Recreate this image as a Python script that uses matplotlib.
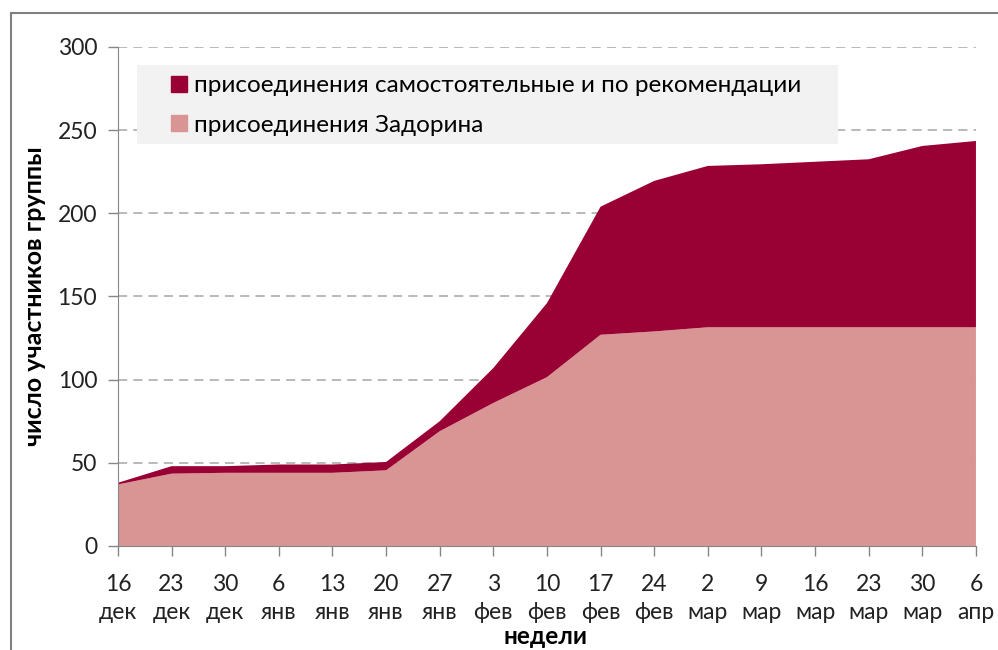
import matplotlib
matplotlib.use('Agg')
import matplotlib.pyplot as plt
import matplotlib.patches as mpatches

plt.rcParams['font.family'] = ['Lato', 'DejaVu Sans']

days = ['16', '23', '30', '6', '13', '20', '27', '3', '10', '17', '24', '2', '9', '16', '23', '30', '6']
months = ['дек', 'дек', 'дек', 'янв', 'янв', 'янв', 'янв', 'фев', 'фев', 'фев', 'фев',
          'мар', 'мар', 'мар', 'мар', 'мар', 'апр']
# присоединения Задорина (нижний слой)
zadorin = [37, 43.5, 44, 44, 44, 45.5, 69, 86, 101.5, 127, 129, 131.5, 131.5, 131.5, 131.5, 131.5, 131.5]
# всего (верхняя граница)
total = [38, 48, 48, 49, 49, 50.5, 75, 107, 146, 204, 219.5, 228.5, 229.5, 231, 232.5, 240.5, 243.5]
own = [t - z for t, z in zip(total, zadorin)]

c_dark = '#990033'
c_light = '#d99594'

fig = plt.figure(figsize=(9.98, 6.5), dpi=100)
ax = fig.add_axes([0.1182, 0.16, 0.8597, 0.7677])

x = list(range(len(days)))
ax.stackplot(x, zadorin, own, colors=[c_light, c_dark], linewidth=0, zorder=2)

ax.set_xlim(0, len(days) - 1)
ax.set_ylim(0, 300)
ax.set_yticks([0, 50, 100, 150, 200, 250, 300])
for v in [50, 100, 150, 200, 250, 300]:
    ax.axhline(v, color='#a6a6a6', linestyle=(0, (6, 4)), linewidth=1.1, zorder=1)

ax.set_xticks(x)
ax.set_xticklabels([d + '\n' + m for d, m in zip(days, months)], linespacing=1.4)
ax.tick_params(axis='both', labelsize=16.5, colors='#222222', length=7, width=1, direction='out')
ax.tick_params(axis='x', color='#868686', pad=13)
ax.tick_params(axis='y', color='#868686', pad=8)

for s in ['top', 'right']:
    ax.spines[s].set_visible(False)
ax.spines['left'].set_color('#868686')
ax.spines['bottom'].set_color('#868686')

ax.set_ylabel('число участников группы', fontsize=18, fontweight='bold')
ax.yaxis.set_label_coords(-0.084, 0.5)
ax.set_xlabel('недели', fontsize=17.5, fontweight='bold')
ax.xaxis.set_label_coords(0.498, -0.158)

# фон легенды
ax.add_patch(mpatches.Rectangle((0.022, 0.806), 0.817, 0.158, transform=ax.transAxes,
                                facecolor='#f2f2f2', edgecolor='none', zorder=3))
h1 = mpatches.Patch(color=c_dark, label='присоединения самостоятельные и по рекомендации')
h2 = mpatches.Patch(color=c_light, label='присоединения Задорина')
leg = ax.legend(handles=[h1, h2], loc='upper left', bbox_to_anchor=(0.062, 0.943),
                borderaxespad=0, borderpad=0, fontsize=17.5, frameon=False,
                handlelength=0.65, handleheight=0.65, handletextpad=0.3, labelspacing=0.75)
leg.set_zorder(4)

# рамка вокруг диаграммы
fig.patches.append(mpatches.Rectangle((0.011, -0.01), 1.0, 0.99, transform=fig.transFigure,
                                      fill=False, edgecolor='#7f7f7f', linewidth=1.5))

fig.savefig('out.png', dpi=100)
